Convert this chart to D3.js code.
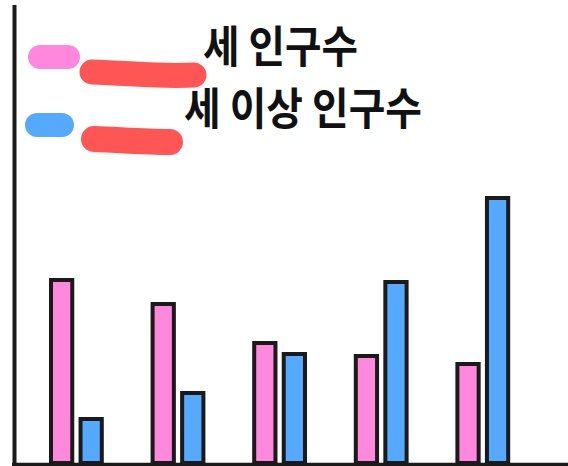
<!DOCTYPE html>
<html>
<head>
<meta charset="utf-8">
<script src="https://cdn.jsdelivr.net/npm/d3@7"></script>
<style>
  body { margin: 0; background: #fff; }
  svg { display: block; }
</style>
</head>
<body>
<div class="main"></div>
<script>
// data
var groups = ["1", "2", "3", "4", "5"];
var seriesNames = ["세 인구수", "세 이상 인구수"];
var pinkValues = [183, 159, 120, 107, 99];
var blueValues = [44, 70, 109, 181, 265];
var colors = ["#ff88dd", "#55aaff"];

const width = 568;
const height = 466;

var svg = d3.select(".main").append("svg")
    .attr("width", width)
    .attr("height", height);

var data = groups.map(function(g, i) {
    return {group: g, values: [pinkValues[i], blueValues[i]]};
});

var x0 = d3.scaleBand()
    .domain(groups)
    .range([25.6, 533.6])
    .paddingInner(0.5)
    .paddingOuter(0.25);

var x1 = d3.scaleBand()
    .domain([0, 1])
    .range([0, x0.bandwidth()])
    .paddingInner(0.28)
    .paddingOuter(0);

var y = d3.scaleLinear()
    .domain([0, 300])
    .range([463, 163]);

// bars
var g = svg.selectAll(".grp")
    .data(data)
    .enter()
    .append("g")
    .attr("class", "grp")
    .attr("transform", function(d) { return "translate(" + x0(d.group) + ",0)"; });

g.selectAll("rect")
    .data(function(d) { return d.values; })
    .enter()
    .append("rect")
    .attr("x", function(d, i) { return x1(i); })
    .attr("y", function(d) { return y(d); })
    .attr("width", x1.bandwidth())
    .attr("height", function(d) { return y(0) - y(d); })
    .style("fill", function(d, i) { return colors[i]; })
    .style("stroke", "#1a1a1a")
    .style("stroke-width", 4);

// axes (plain lines, no ticks)
svg.append("line")
    .attr("x1", 14.5).attr("x2", 14.5)
    .attr("y1", 5).attr("y2", 466)
    .style("stroke", "#1a1a1a")
    .style("stroke-width", 4);

svg.append("line")
    .attr("x1", 12).attr("x2", 568)
    .attr("y1", 464.5).attr("y2", 464.5)
    .style("stroke", "#1a1a1a")
    .style("stroke-width", 3.5);

// legend swatches
var swatch = [{x: 28, y: 45, w: 52}, {x: 25, y: 113, w: 49}];
svg.selectAll(".swatch")
    .data(seriesNames)
    .enter()
    .append("rect")
    .attr("class", "swatch")
    .attr("x", function(d, i) { return swatch[i].x; })
    .attr("y", function(d, i) { return swatch[i].y; })
    .attr("width", function(d, i) { return swatch[i].w; })
    .attr("height", 24)
    .attr("rx", 12)
    .style("fill", function(d, i) { return colors[i]; });

// red marker strokes over the legend
svg.append("path")
    .attr("d", "M92,72 C130,73 160,77 194,75")
    .style("fill", "none")
    .style("stroke", "#ff5555")
    .style("stroke-width", 25)
    .style("stroke-linecap", "round");

svg.append("path")
    .attr("d", "M94,139 C120,140 145,142 170,142")
    .style("fill", "none")
    .style("stroke", "#ff5555")
    .style("stroke-width", 26)
    .style("stroke-linecap", "round");

// legend labels
var labelPos = [{x: 203, y: 63, len: 155}, {x: 184, y: 125, len: 238}];
svg.selectAll(".label")
    .data(seriesNames)
    .enter()
    .append("text")
    .attr("class", "label")
    .attr("x", function(d, i) { return labelPos[i].x; })
    .attr("y", function(d, i) { return labelPos[i].y; })
    .attr("textLength", function(d, i) { return labelPos[i].len; })
    .attr("lengthAdjust", "spacingAndGlyphs")
    .text(function(d) { return d; })
    .style("font-family", "'Noto Sans CJK KR', 'Noto Sans', sans-serif")
    .style("font-size", "44px")
    .style("font-weight", "700")
    .style("fill", "#111");
</script>
</body>
</html>
